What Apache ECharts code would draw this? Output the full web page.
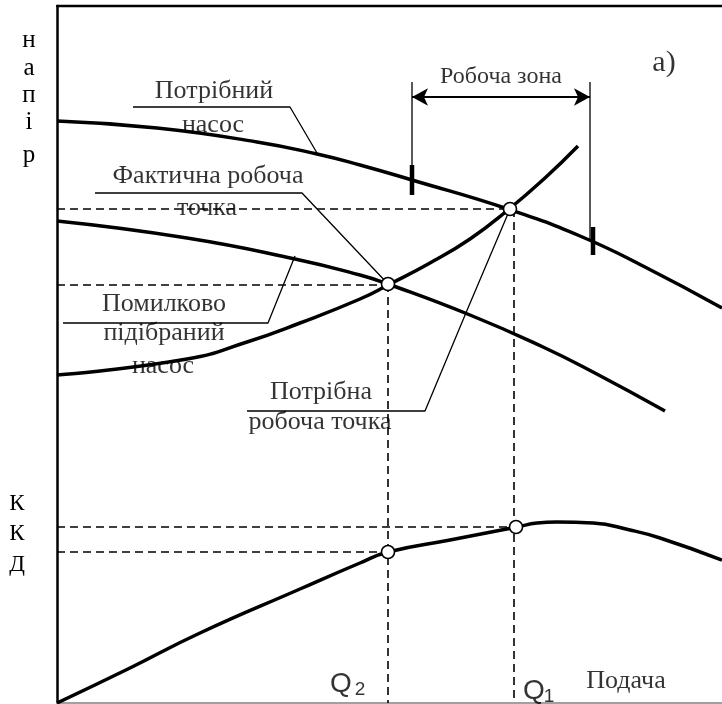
<!DOCTYPE html>
<html>
<head>
<meta charset="utf-8">
<script src="https://cdn.jsdelivr.net/npm/echarts@6/dist/echarts.min.js"></script>
<style>html,body{margin:0;padding:0;background:#fff}#c{width:722px;height:704px}</style>
</head>
<body>
<div id="c"></div>
<script>
// Q (flow) axis 0..665, H (head / efficiency) axis 0..697 — arbitrary units
const pumpRequired = [[0,582],[100,575],[200,561],[260,549],[303,538],[355,523],[451,494],[523,467],[586,437],[665,395]];
const pumpWrong    = [[0,482],[130,465],[238,444],[303,428],[331,419],[413,388],[486,356],[536,331],[608,292]];
const systemCurve  = [[0,328],[130,344],[190,361],[243,380],[303,404],[331,418],[373,440],[413,464],[451,493],[488,525],[521,557]];
const efficiency   = [[0,0],[73,35],[143,70],[243,114],[303,140],[331,151],[393,163],[460,176],[480,180],[500,181],[536,180],[573,173],[603,165],[665,143]];

// operating points
const pointActual = [331,419];
const pointRequired = [453,494];
const effActual = [331,151];
const effRequired = [459,176];
const Q2 = 331, Q1 = 457;

// working zone
const zoneLeft = 355, zoneRight = 533, zoneArrowH = 606, zoneTop = 621;

// dashed guides
const dashed = [
  [[0,494],[451,494]],
  [[0,418],[331,418]],
  [[Q2,419],[Q2,0]],
  [[Q1,494],[Q1,0]],
  [[0,176],[460,176]],
  [[0,151],[331,151]]
];
// label leader lines
const leaders = [
  [[76,596],[233,596],[260,550]],
  [[38,510],[245,510],[331,419]],
  [[6,380],[211,380],[238,447]],
  [[190,292],[368,292],[411,395],[453,494]]
];
// working zone lines
const zoneThin = [
  [[zoneLeft,zoneTop],[zoneLeft,536]],
  [[zoneRight,zoneTop],[zoneRight,463]]
];
const zoneThick = [
  [[zoneLeft,538],[zoneLeft,508]],
  [[536,476],[536,448]]
];

// text labels [q, h, text, fontSize]
const serifLabels = [
  [157,612,'Потрібний',26],
  [156,578,'насос',26],
  [151,527,'Фактична робоча',26],
  [150,495,'точка',26],
  [107,399,'Помилково',26],
  [107,370,'підібраний',26],
  [106,337,'насос',26],
  [264,311,'Потрібна',26],
  [263,281,'робоча точка',26],
  [444,626,'Робоча зона',24],
  [607,640,'а)',30],
  [569,22,'Подача',26]
];
// axis side labels [x px, y px, text] (outside the plot area)
const headLetters = [[29,40,'н'],[29,68,'а'],[29,95,'п'],[29,122,'і'],[29,155,'р']];
const effLetters  = [[17,504,'К'],[17,534,'К'],[17,565,'Д']];
const qLabels = [
  [284,19,'Q',28],[303,13,'2',19],
  [477,12,'Q',28],[492,6,'1',19]
];

const chart = echarts.init(document.getElementById('c'), null, {renderer:'canvas'});
const thick = {color:'#000', width:3.5};
const series = [];
function curve(d){ series.push({type:'line', data:d, smooth:0.5, showSymbol:false, symbol:'none', lineStyle:thick, z:5, silent:true}); }
curve(pumpRequired); curve(pumpWrong); curve(systemCurve); curve(efficiency);
dashed.forEach(d => series.push({type:'line', data:d, showSymbol:false, symbol:'none', lineStyle:{color:'#000', width:1.6, type:[8,5]}, z:3, silent:true}));
leaders.forEach(d => series.push({type:'line', data:d, showSymbol:false, symbol:'none', lineStyle:{color:'#000', width:1.3}, z:4, silent:true}));
zoneThin.forEach(d => series.push({type:'line', data:d, showSymbol:false, symbol:'none', lineStyle:{color:'#000', width:1.3}, z:4, silent:true}));
zoneThick.forEach(d => series.push({type:'line', data:d, showSymbol:false, symbol:'none', lineStyle:{color:'#000', width:4.5}, z:6, silent:true}));
// arrow
series.push({type:'line', data:[], silent:true,
  markLine:{silent:true, symbol:['arrow','arrow'], symbolSize:[13,16], label:{show:false},
    lineStyle:{color:'#000', width:2, type:'solid'},
    data:[[{coord:[zoneLeft,zoneArrowH]},{coord:[zoneRight,zoneArrowH]}]]}});
// points
series.push({type:'scatter', data:[pointActual, pointRequired, effActual, effRequired], symbol:'circle', symbolSize:13,
  itemStyle:{color:'#fff', borderColor:'#000', borderWidth:1.6, opacity:1}, z:10, silent:true});
// text
series.push({type:'scatter', symbolSize:1, itemStyle:{color:'rgba(0,0,0,0)'}, z:8, silent:true,
  data: serifLabels.map(l => ({value:[l[0],l[1]], label:{show:true, position:'inside', formatter:l[2], fontSize:l[3],
    fontFamily:'Liberation Serif, Times New Roman, serif', color:'#000', align:'center', verticalAlign:'middle'}}))});
series.push({type:'scatter', symbolSize:1, itemStyle:{color:'rgba(0,0,0,0)'}, z:8, silent:true,
  data: qLabels.map(l => ({value:[l[0],l[1]], label:{show:true, position:'inside', formatter:l[2], fontSize:l[3],
    fontFamily:'Liberation Sans, Arial, sans-serif', color:'#000', align:'center', verticalAlign:'middle'}}))});

const graphics = headLetters.map(l => ({type:'text', x:l[0], y:l[1], silent:true,
    style:{text:l[2], fill:'#000', font:'25px "Liberation Serif", serif', align:'center', verticalAlign:'middle'}}))
  .concat(effLetters.map(l => ({type:'text', x:l[0], y:l[1], silent:true,
    style:{text:l[2], fill:'#000', font:'23px "Liberation Serif", serif', align:'center', verticalAlign:'middle'}})));

chart.setOption({
  animation:false,
  backgroundColor:'#fff',
  grid:{left:57, right:0, top:6, bottom:1, containLabel:false},
  xAxis:[
    {type:'value', min:0, max:665, axisLine:{show:true, onZero:false, lineStyle:{color:'#a0a0a0', width:2}}, axisTick:{show:false}, axisLabel:{show:false}, splitLine:{show:false}},
    {type:'value', position:'top', min:0, max:665, axisLine:{show:true, onZero:false, lineStyle:{color:'#000', width:2.3}}, axisTick:{show:false}, axisLabel:{show:false}, splitLine:{show:false}}
  ],
  yAxis:{type:'value', min:0, max:697, axisLine:{show:true, onZero:false, lineStyle:{color:'#000', width:2.5}}, axisTick:{show:false}, axisLabel:{show:false}, splitLine:{show:false}},
  graphic: graphics,
  series: series
});
</script>
</body>
</html>
